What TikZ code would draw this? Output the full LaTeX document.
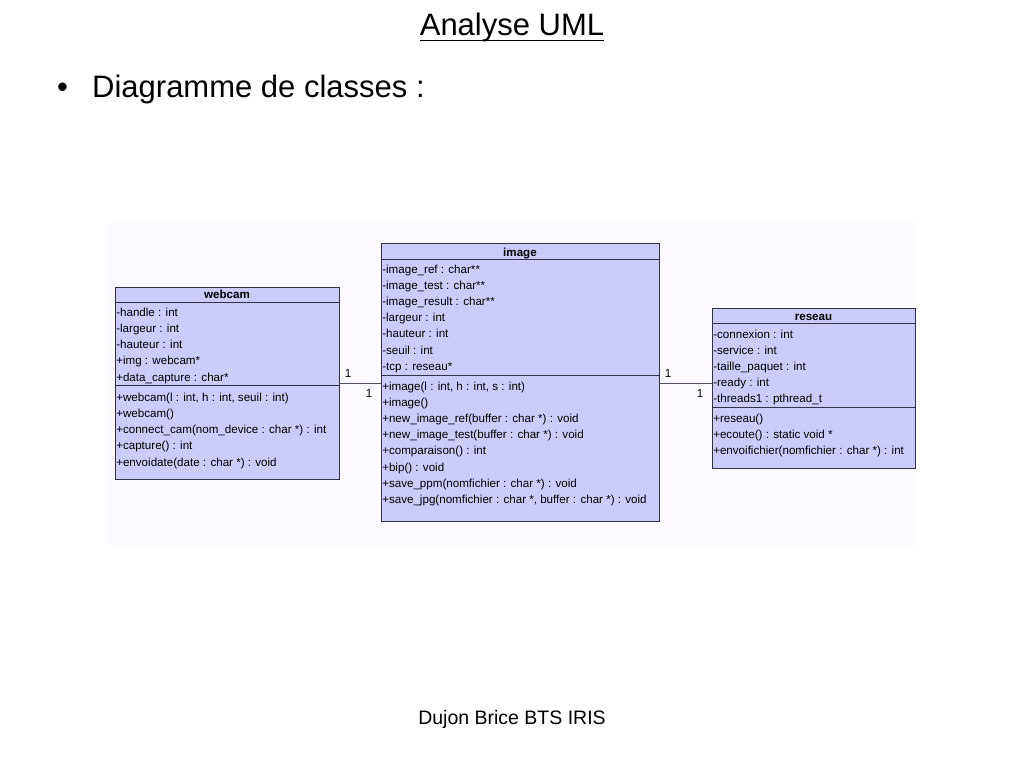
\documentclass[tikz,border=0pt]{standalone}
\usepackage{fontspec}
\setmainfont{Liberation Sans}
\usetikzlibrary{calc}
\definecolor{classfill}{RGB}{204,204,250}
\definecolor{classline}{RGB}{50,50,70}
\definecolor{panel}{RGB}{252,249,255}
\begin{document}
\begin{tikzpicture}[x=1pt,y=-1pt,
  classbox/.style={draw=classline, fill=classfill, line width=0.9pt, rectangle, inner sep=0pt},
  row/.style={anchor=base west, inner sep=0pt, font=\fontsize{11.6}{13}\selectfont},
  head/.style={anchor=base, inner sep=0pt, font=\fontsize{11.6}{13}\selectfont\bfseries},
  mult/.style={anchor=base, inner sep=0pt, font=\fontsize{11.6}{13}\selectfont},
  sep/.style={draw=classline, line width=0.9pt},
  assoc/.style={draw=classline!85, line width=0.9pt}]
\useasboundingbox (0,0) rectangle (1024,768);
\fill[white] (0,0) rectangle (1024,768);
% titles
\node[anchor=base, inner sep=0pt, font=\fontsize{31}{36}\selectfont] (title) at (512,36) {Analyse UML};
\draw[line width=1.8pt] ($(title.base west)+(0,4.5)$) -- ($(title.base east)+(0,4.5)$);
\node[anchor=base west, inner sep=0pt, font=\fontsize{31}{36}\selectfont] (bullet) at (57,97) {•};
\node[anchor=base west, inner sep=0pt, font=\fontsize{31}{36}\selectfont] (sub) at (92,97) {Diagramme de classes :};
\node[anchor=base, inner sep=0pt, font=\fontsize{19.5}{23}\selectfont] (foot) at (512,724) {Dujon Brice BTS IRIS};
% panel
\fill[panel] (107,222) rectangle (916,546);
% webcam
\node[classbox, minimum width=224pt, minimum height=192pt] (webcam) at (227,383) {};
\draw[sep] ($(webcam.north west)+(0,16)$) -- ($(webcam.north east)+(0,16)$);
\draw[sep] ($(webcam.north west)+(0,99)$) -- ($(webcam.north east)+(0,99)$);
\node[head] (webcam-t) at ($(webcam.north)+(0,12)$) {webcam};
\foreach \t [count=\i] in {{-handle : int},{-largeur : int},{-hauteur : int},{+img : webcam*},{+data\_capture : char*}}
  \node[row] (webcam-a\i) at ($(webcam.north west)+(1.5,{29.5+16.25*(\i-1)})$) {\t};
\foreach \t [count=\i] in {{+webcam(l : int, h : int, seuil : int)},{+webcam()},{+connect\_cam(nom\_device : char *) : int},{+capture() : int},{+envoidate(date : char *) : void}}
  \node[row] (webcam-m\i) at ($(webcam.north west)+(1.5,{114.5+16.25*(\i-1)})$) {\t};
% image
\node[classbox, minimum width=278pt, minimum height=278pt] (image) at (520,382) {};
\draw[sep] ($(image.north west)+(0,17)$) -- ($(image.north east)+(0,17)$);
\draw[sep] ($(image.north west)+(0,133)$) -- ($(image.north east)+(0,133)$);
\node[head] (image-t) at ($(image.north)+(0,13.5)$) {image};
\foreach \t [count=\i] in {{-image\_ref : char**},{-image\_test : char**},{-image\_result : char**},{-largeur : int},{-hauteur : int},{-seuil : int},{-tcp : reseau*}}
  \node[row] (image-a\i) at ($(image.north west)+(1.5,{31+16.1*(\i-1)})$) {\t};
\foreach \t [count=\i] in {{+image(l : int, h : int, s : int)},{+image()},{+new\_image\_ref(buffer : char *) : void},{+new\_image\_test(buffer : char *) : void},{+comparaison() : int},{+bip() : void},{+save\_ppm(nomfichier : char *) : void},{+save\_jpg(nomfichier : char *, buffer : char *) : void}}
  \node[row] (image-m\i) at ($(image.north west)+(1.5,{148+16.1*(\i-1)})$) {\t};
% reseau
\node[classbox, minimum width=203pt, minimum height=160pt] (reseau) at (813.5,388) {};
\draw[sep] ($(reseau.north west)+(0,16)$) -- ($(reseau.north east)+(0,16)$);
\draw[sep] ($(reseau.north west)+(0,100)$) -- ($(reseau.north east)+(0,100)$);
\node[head] (reseau-t) at ($(reseau.north)+(0,12.5)$) {reseau};
\foreach \t [count=\i] in {{-connexion : int},{-service : int},{-taille\_paquet : int},{-ready : int},{-threads1 : pthread\_t}}
  \node[row] (reseau-a\i) at ($(reseau.north west)+(1.5,{30.5+16*(\i-1)})$) {\t};
\foreach \t [count=\i] in {{+reseau()},{+ecoute() : static void *},{+envoifichier(nomfichier : char *) : int}}
  \node[row] (reseau-m\i) at ($(reseau.north west)+(1.5,{114.5+16*(\i-1)})$) {\t};
% associations
\draw[assoc] (webcam.east) -- (webcam.east -| image.west);
\draw[assoc] (image.east |- webcam.east) -- (reseau.west |- webcam.east);
\node[mult] (m1) at (348,377) {1};
\node[mult] (m2) at (369,397) {1};
\node[mult] (m3) at (668,377) {1};
\node[mult] (m4) at (700,397) {1};
\end{tikzpicture}
\end{document}
